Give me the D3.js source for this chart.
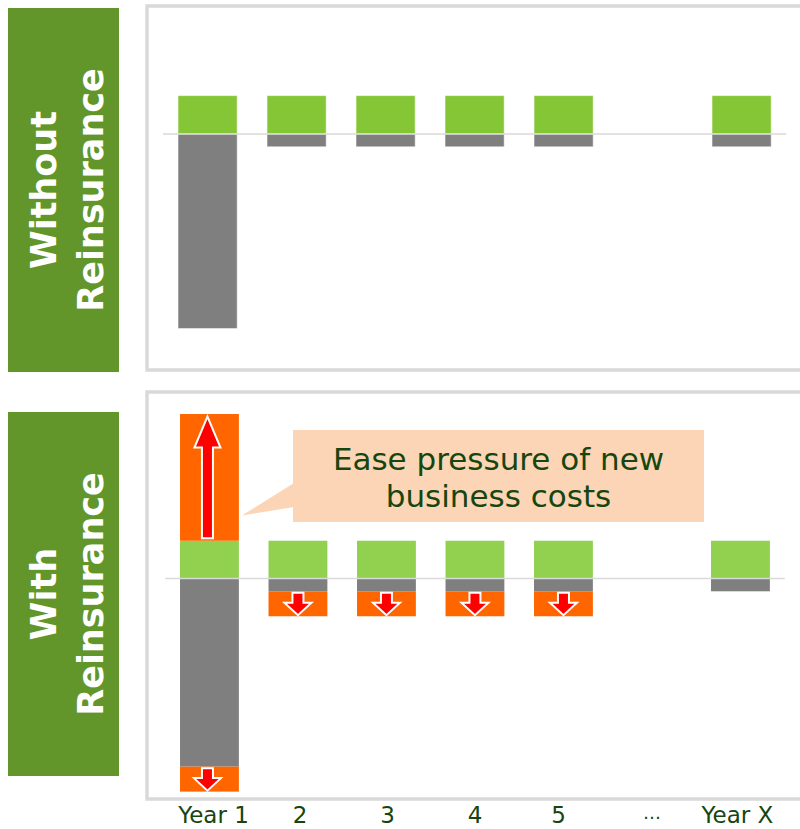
<!DOCTYPE html>
<html><head><meta charset="utf-8">
<script src="https://cdn.jsdelivr.net/npm/d3@7"></script>
<style>body{margin:0;background:#fff}svg{display:block}</style>
</head><body>
<script>
// ---- data ----
const categories = ["Year 1", "2", "3", "4", "5", "…", "Year X"];
// Without reinsurance
const withoutProfit = [3, 3, 3, 3, 3, null, 3];
const withoutCost = [-15.2, -1, -1, -1, -1, null, -1];
// With reinsurance
const withProfit = [2.95, 2.95, 2.95, 2.95, 2.95, null, 2.95];
const withCommission = [9.9, 0, 0, 0, 0, null, 0];
const withCost = [-14.7, -1, -1, -1, -1, null, -1];
const withRepayment = [-1.95, -1.95, -1.95, -1.95, -1.95, null, 0];
const panelTitles = [["Without", "Reinsurance"], ["With", "Reinsurance"]];
const calloutLines = ["Ease pressure of new", "business costs"];

const W = 800, H = 829;
const svg = d3.select("body").append("svg").attr("width", W).attr("height", H);
const font = "'DejaVu Sans', Verdana, sans-serif";
const C = {box: "#62962a", border: "#d9d9d9", green1: "#85c637", green2: "#92d050",
  gray: "#7f7f7f", orange: "#ff6600", red: "#ff0000", peach: "#fbd5b5", text: "#17450f"};
const pxPerUnit = 12.8;

function yScale(base) {
  return d3.scaleLinear().domain([-20, 15]).range([base + 20 * pxPerUnit, base - 15 * pxPerUnit]);
}

function titleBox(y0, y1, lines) {
  svg.append("rect").attr("x", 8).attr("y", y0).attr("width", 111).attr("height", y1 - y0).attr("fill", C.box);
  const t = svg.append("text").attr("transform", `translate(64,${(y0 + y1) / 2}) rotate(-90)`)
    .attr("text-anchor", "middle").attr("fill", "#fff").attr("font-family", font)
    .attr("font-weight", "bold").attr("font-size", 35);
  t.append("tspan").attr("x", 0).attr("y", -8.5).text(lines[0]);
  t.append("tspan").attr("x", 0).attr("y", 38.5).text(lines[1]);
}

function stackRects(g, x, y, starts, vals, color, stroke) {
  g.selectAll(null).data(categories.map((c, i) => ({c, s: starts[i], v: vals[i]})).filter(d => d.v))
    .join("rect")
    .attr("x", d => x(d.c)).attr("width", x.bandwidth())
    .attr("y", d => Math.min(y(d.s), y(d.s + d.v)))
    .attr("height", d => Math.abs(y(d.s + d.v) - y(d.s)))
    .attr("fill", color)
    .attr("stroke", stroke ? "rgba(255,255,255,0.55)" : "none").attr("stroke-width", 1);
}

function arrowPath(cx, yTail, yTip, shaftHalf, headHalf, headLen) {
  const dir = yTip < yTail ? -1 : 1;
  const yh = yTip - dir * headLen;
  return `M${cx - shaftHalf},${yTail} L${cx - shaftHalf},${yh} L${cx - headHalf},${yh} L${cx},${yTip} L${cx + headHalf},${yh} L${cx + shaftHalf},${yh} L${cx + shaftHalf},${yTail} Z`;
}

// ---------- Top panel ----------
titleBox(8, 372, panelTitles[0]);
svg.append("rect").attr("x", 147).attr("y", 6).attr("width", 700).attr("height", 364)
  .attr("fill", "none").attr("stroke", C.border).attr("stroke-width", 3.5);
const xTop = d3.scaleBand().domain(categories).range([163.1, 786.1]).paddingInner(0.335).paddingOuter(0.1675);
const yTop = yScale(134);
const gTop = svg.append("g");
const zeros = categories.map(() => 0);
stackRects(gTop, xTop, yTop, zeros, withoutProfit, C.green1, true);
stackRects(gTop, xTop, yTop, zeros, withoutCost, C.gray, true);
gTop.append("line").attr("x1", xTop.range()[0]).attr("x2", xTop.range()[1])
  .attr("y1", yTop(0)).attr("y2", yTop(0)).attr("stroke", C.border).attr("stroke-width", 1.6);

// ---------- Bottom panel ----------
titleBox(412, 776, panelTitles[1]);
svg.append("rect").attr("x", 147).attr("y", 392).attr("width", 700).attr("height", 407)
  .attr("fill", "none").attr("stroke", C.border).attr("stroke-width", 3.5);
const xBot = d3.scaleBand().domain(categories).range([165.2, 784.7]).paddingInner(0.335).paddingOuter(0.1675);
const yBot = yScale(578.5);
const gBot = svg.append("g");
stackRects(gBot, xBot, yBot, zeros, withProfit, C.green2, false);
stackRects(gBot, xBot, yBot, withProfit.map(v => v || 0), withCommission, C.orange, false);
stackRects(gBot, xBot, yBot, zeros, withCost, C.gray, false);
stackRects(gBot, xBot, yBot, withCost.map(v => v || 0), withRepayment, C.orange, false);
gBot.append("line").attr("x1", xBot.range()[0]).attr("x2", xBot.range()[1])
  .attr("y1", yBot(0)).attr("y2", yBot(0)).attr("stroke", C.border).attr("stroke-width", 1.6);

// arrows
const arrows = [];
categories.forEach((c, i) => {
  const cx = xBot(c) + xBot.bandwidth() / 2 - (i === 0 ? 2 : 0);
  if (withCommission[i]) {
    const s = withProfit[i];
    arrows.push(arrowPath(cx, yBot(s) - 2.5, yBot(s + withCommission[i]) + 2.5, 5.5, 13, 31));
  }
  if (withRepayment[i]) {
    const s = withCost[i];
    arrows.push(arrowPath(cx, yBot(s) + 1.5, yBot(s + withRepayment[i]) - 1, 5.5, 13.5, 12.5));
  }
});
gBot.selectAll(null).data(arrows).join("path").attr("d", d => d)
  .attr("fill", C.red).attr("stroke", "#fff").attr("stroke-width", 2).attr("stroke-linejoin", "miter");

// callout
const cg = svg.append("g");
cg.append("path").attr("d", "M294,483 L242,515.5 L294,507 Z").attr("fill", C.peach);
cg.append("rect").attr("x", 293).attr("y", 430).attr("width", 411).attr("height", 92).attr("fill", C.peach);
cg.selectAll(null).data(calloutLines).join("text")
  .attr("x", 498.5).attr("y", (d, i) => 470 + i * 37).attr("text-anchor", "middle")
  .attr("font-family", font).attr("font-size", 31).attr("fill", C.text).text(d => d);

// x axis labels
const ax = svg.append("g").attr("transform", "translate(0,800)")
  .call(d3.axisBottom(xBot).tickSize(0).tickPadding(0));
ax.select(".domain").remove();
ax.selectAll("text").attr("font-family", font).attr("font-size", 23).attr("fill", C.text)
  .attr("dy", null).attr("y", 23)
  .attr("dx", (d, i) => [4, 2, 1, 0, -5, 0, -3][i]);
ax.selectAll("text").filter(d => d === "…").attr("font-size", 18).attr("y", 19);
</script>
</body></html>
